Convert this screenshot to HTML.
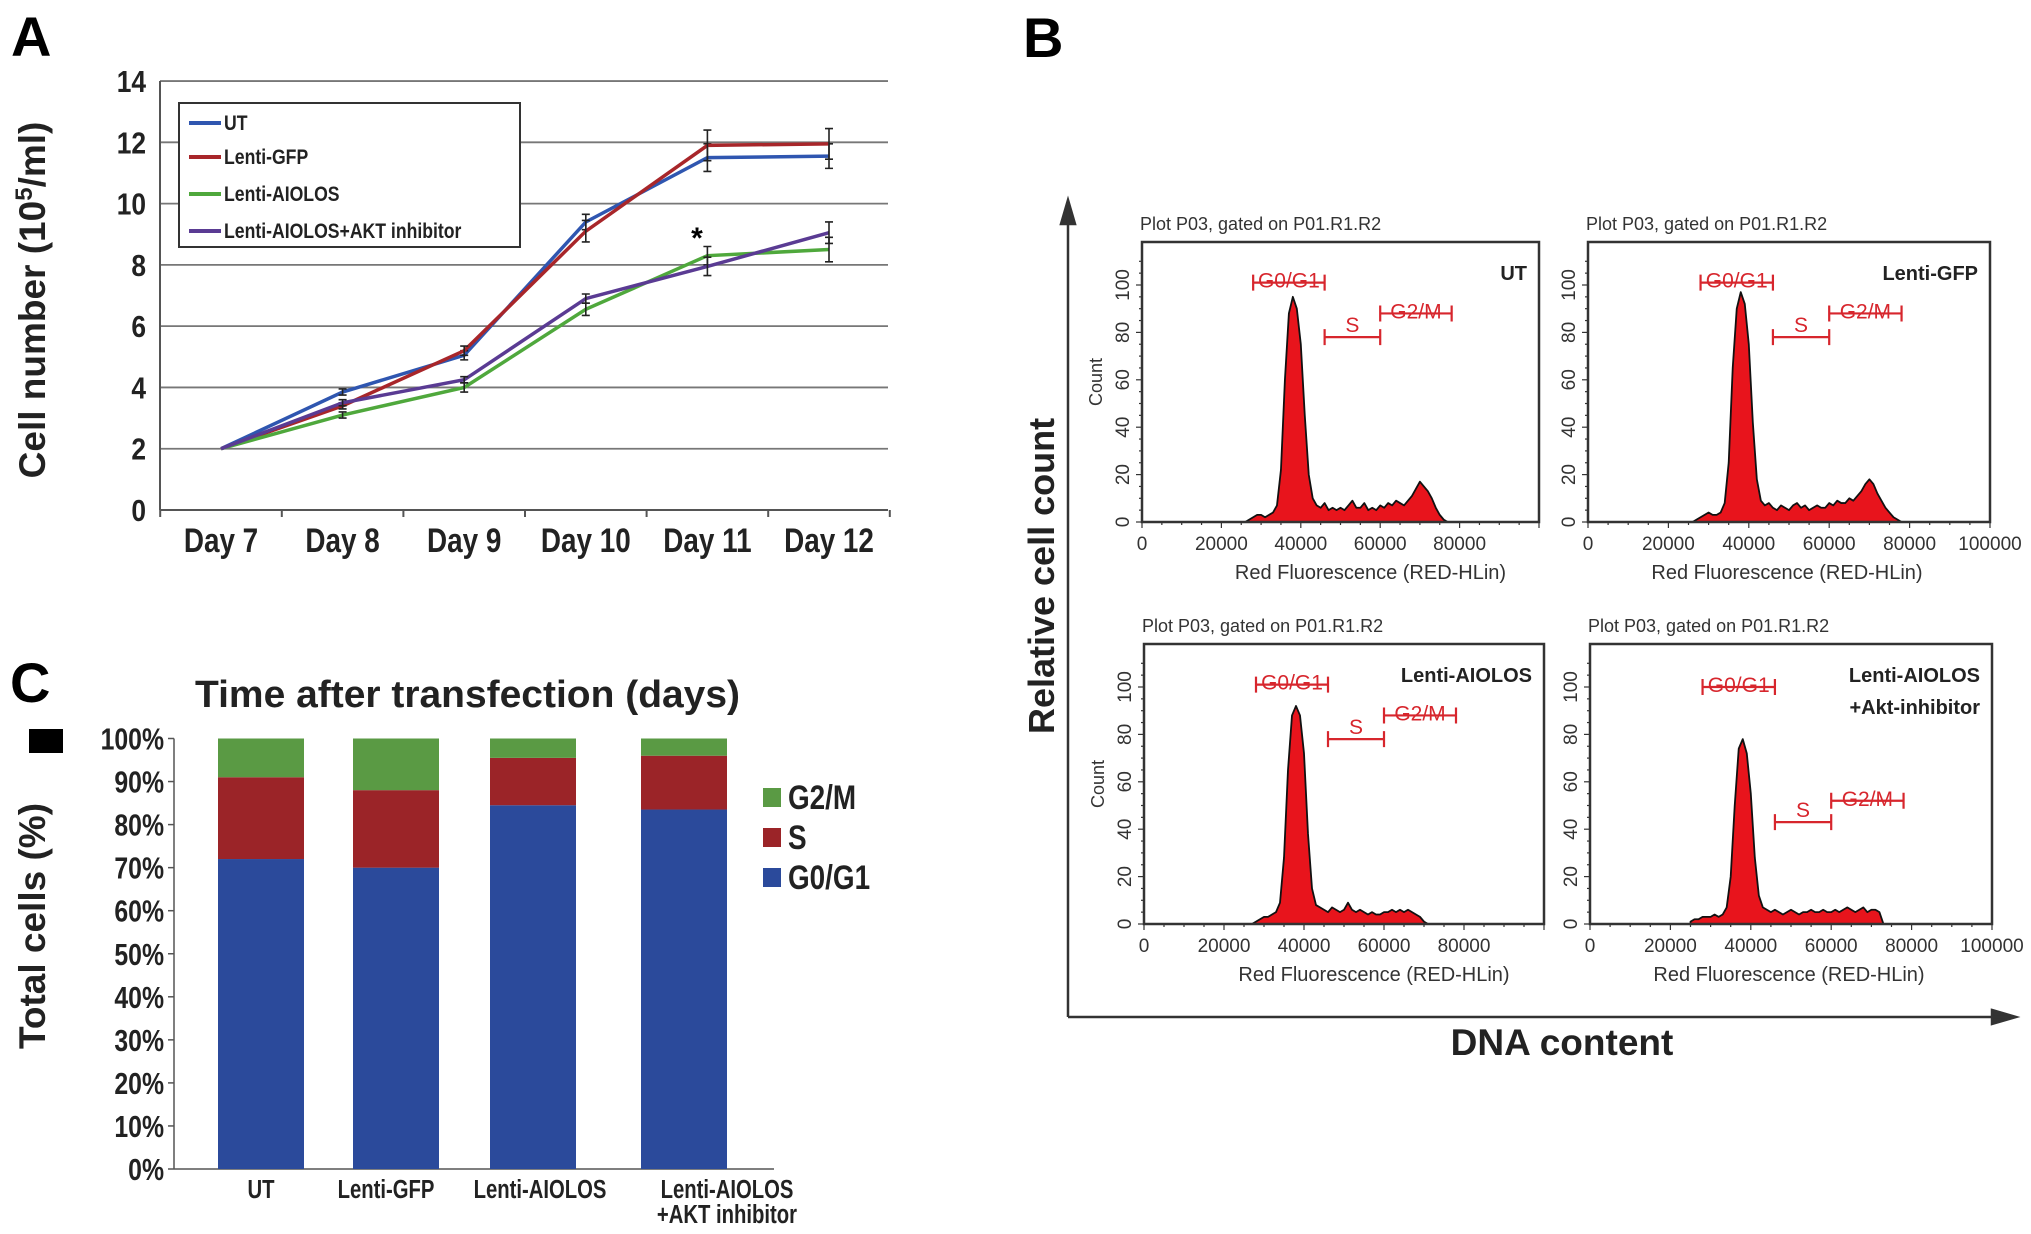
<!DOCTYPE html>
<html><head><meta charset="utf-8"><style>
html,body{margin:0;padding:0;background:#fff}
svg{display:block}
text{font-family:"Liberation Sans",sans-serif}
.n{font-family:"Liberation Sans",sans-serif;font-weight:bold}
</style></head><body>
<svg id="fig" width="2031" height="1234" viewBox="0 0 2031 1234" xmlns="http://www.w3.org/2000/svg">
<g id="A"></g>
<g id="B"></g>
<g id="C"></g>
</svg>
<script>
// ---------- Panel A data ----------
const daysA = ["Day 7","Day 8","Day 9","Day 10","Day 11","Day 12"];
const ticksA = [0,2,4,6,8,10,12,14];
const seriesNamesA = ["UT","Lenti-GFP","Lenti-AIOLOS","Lenti-AIOLOS+AKT inhibitor"];
const utVals = [2,3.85,5.05,9.4,11.5,11.55];
const gfpVals = [2,3.4,5.2,9.1,11.9,11.95];
const aiolosVals = [2,3.1,4.0,6.55,8.3,8.5];
const aktVals = [2,3.5,4.25,6.9,7.95,9.05];
const utErr = [0,0.1,0.15,0.25,0.45,0.4];
const gfpErr = [0,0.1,0.15,0.35,0.5,0.5];
const aiolosErr = [0,0.1,0.15,0.2,0.3,0.4];
const aktErr = [0,0.1,0.1,0.15,0.3,0.35];
// ---------- Panel C data ----------
const groupsC = ["UT","Lenti-GFP","Lenti-AIOLOS","Lenti-AIOLOS|+AKT inhibitor"];
const g0g1 = [72,70,84.5,83.5];
const sPhase = [19,18,11,12.5];
const g2m = [9,12,4.5,4];
const ticksC = [0,10,20,30,40,50,60,70,80,90,100];
// ---------- Panel B data (counts per 1000-unit bin starting at 25000) ----------
const histUT = [0,0,1,2,3,3,2,3,4,7,22,60,88,95,90,75,45,20,10,7,6,8,5,6,5,6,5,7,9,6,6,8,5,6,5,7,6,8,7,9,8,7,9,11,14,17,15,13,10,6,3,1,0,0,0,0];
const histGFP = [0,0,1,2,3,4,3,3,4,8,25,65,90,97,92,75,42,18,9,7,8,6,5,7,6,5,7,8,6,7,5,6,7,6,6,8,7,9,8,8,10,9,11,13,16,18,16,12,9,6,4,2,1,0,0,0];
const histAIO = [0,0,0,1,2,3,3,4,5,9,28,65,88,92,88,72,38,15,8,7,6,5,7,6,5,6,9,6,5,6,5,4,5,4,4,5,5,6,5,6,5,6,5,4,3,1,0,0,0,0,0,0,0,0,0,0];
const histAKT = [1,2,2,3,3,3,4,3,4,7,20,50,74,78,72,55,28,12,7,6,5,6,5,4,5,6,5,4,5,5,6,5,5,6,5,5,6,5,6,7,6,5,6,7,5,6,6,5,0,0,0,0,0,0,0,0];
const histStart = 25000, histStep = 1000;

const NS="http://www.w3.org/2000/svg";
function mk(tag,parent,attrs,txt){const e=document.createElementNS(NS,tag);for(const k in attrs)e.setAttribute(k,attrs[k]);if(txt!==undefined)e.textContent=txt;parent.appendChild(e);return e;}
// condensed text: horizontal squeeze around anchor point
function nt(parent,x,y,size,anchor,txt,sx){const e=mk('text',parent,{x:0,y:0,'font-size':size,'text-anchor':anchor,class:'n',fill:'#222',transform:`translate(${x},${y}) scale(${sx||0.8},1)`},txt);return e;}

// ================= Panel A =================
const A=document.getElementById('A');
const xA=i=>221+i*121.6, yA=v=>510-v*30.64;
let el;
el=mk('text',A,{x:11,y:56,'font-size':56,'font-weight':'bold'},'A');


ticksA.forEach(t=>{
  el=mk('line',A,{x1:160,x2:888,y1:yA(t),y2:yA(t),stroke:t===0?'#555':'#777','stroke-width':t===0?2:1.8});
  
  
  el=nt(A,146,yA(t)+11,31,'end',String(t),0.85);
  
  
});
el=mk('line',A,{x1:160,x2:160,y1:yA(14),y2:yA(0),stroke:'#555','stroke-width':2});


for(let i=0;i<=6;i++){
  el=mk('line',A,{x1:xA(i)-60.8,x2:xA(i)-60.8,y1:510,y2:517,stroke:'#555','stroke-width':2});
  
  
}
daysA.forEach((d,i)=>{
  el=nt(A,xA(i),552,34,'middle',d,0.82);
  
  
});
el=mk('text',A,{x:0,y:0,transform:'translate(45,300) rotate(-90)','text-anchor':'middle','font-size':37,'font-weight':'bold',fill:'#222'});
el.innerHTML='Cell number (10<tspan baseline-shift="super" font-size="24">5</tspan>/ml)';


const colsA=['#2f56b0','#a8262a','#4fa83c','#5a3b93'];
const valsA=[utVals,gfpVals,aiolosVals,aktVals];
const errsA=[utErr,gfpErr,aiolosErr,aktErr];
valsA.forEach((vals,s)=>{
  el=mk('polyline',A,{points:vals.map((v,i)=>xA(i)+','+yA(v)).join(' '),fill:'none',stroke:colsA[s],'stroke-width':3.5});
  
  
  vals.forEach((v,i)=>{ if(!errsA[s][i])return;
    const e=errsA[s][i];
    el=mk('path',A,{d:`M${xA(i)},${yA(v+e)}V${yA(v-e)}M${xA(i)-4},${yA(v+e)}h8M${xA(i)-4},${yA(v-e)}h8`,stroke:'#222','stroke-width':1.6,fill:'none'});
    
    
  });
});
el=mk('text',A,{x:697,y:248,'font-size':30,'font-weight':'bold','text-anchor':'middle'},'*');


const legA=mk('g',A,{});


el=mk('rect',legA,{x:179,y:103,width:341,height:144,fill:'#fff',stroke:'#333','stroke-width':2});


seriesNamesA.forEach((n,s)=>{
  const y=[123,157,194,231][s];
  el=mk('line',legA,{x1:189,x2:221,y1:y,y2:y,stroke:colsA[s],'stroke-width':4});
  
  
  el=nt(legA,224,y+7,21,'start',n,0.84);
  
  
});

// ================= Panel C =================
const C=document.getElementById('C');
const yC=v=>1169-v*4.305;
const barX=[218,353,490,641], barW=86;
el=mk('text',C,{x:10,y:702,'font-size':56,'font-weight':'bold'},'C');


el=mk('text',C,{x:195,y:707,'font-size':38,class:'n',textLength:545,lengthAdjust:'spacingAndGlyphs',fill:'#222'},'Time after transfection (days)');


el=mk('rect',C,{x:29,y:729,width:34,height:24,fill:'#000'});


ticksC.forEach(t=>{
  el=nt(C,164,yC(t)+11,31,'end',t+'%',0.8);
  
  
  el=mk('line',C,{x1:168,x2:174,y1:yC(t),y2:yC(t),stroke:'#555','stroke-width':1.5});
  
  
});
el=mk('line',C,{x1:174,x2:174,y1:yC(100),y2:yC(0),stroke:'#555','stroke-width':1.5});


el=mk('line',C,{x1:174,x2:774,y1:yC(0),y2:yC(0),stroke:'#555','stroke-width':1.5});


const colC={g:'#2b4a9b',s:'#9b2428',m:'#5a9a44'};
const labelCx=[255,390,545,726];
groupsC.forEach((g,i)=>{
  const x=barX[i];
  el=mk('rect',C,{x:x,y:yC(g0g1[i]),width:barW,height:yC(0)-yC(g0g1[i]),fill:colC.g});
  
  
  el=mk('rect',C,{x:x,y:yC(g0g1[i]+sPhase[i]),width:barW,height:yC(g0g1[i])-yC(g0g1[i]+sPhase[i]),fill:colC.s});
  
  
  const top=g0g1[i]+sPhase[i]+g2m[i];
  el=mk('rect',C,{x:x,y:yC(top),width:barW,height:yC(g0g1[i]+sPhase[i])-yC(top),fill:colC.m});
  
  
  g.split('|').forEach((ln,k)=>{
    el=nt(C,[261,386,540,727][i],1198+k*25,26,'middle',ln,0.78);
    
    
  });
});
[['G2/M',colC.m,788],['S',colC.s,828],['G0/G1',colC.g,868]].forEach(([n,c,y])=>{
  el=mk('rect',C,{x:763,y:y,width:18,height:19,fill:c});
  
  
  el=nt(C,788,y+21,34,'start',n,0.82);
  
  
});
el=mk('text',C,{x:0,y:0,transform:'translate(45,926) rotate(-90)','text-anchor':'middle','font-size':37,'font-weight':'bold',fill:'#222'},'Total cells (%)');



// ================= Panel B =================
const B=document.getElementById('B');
el=mk('text',B,{x:1023,y:57,'font-size':56,'font-weight':'bold'},'B');


el=mk('path',B,{d:'M1068,1017V210M1061,224L1068,200L1075,224Z',stroke:'#333','stroke-width':2.5,fill:'#333'});


el=mk('path',B,{d:'M1068,1017H2005M1992,1010L2016,1017L1992,1024Z',stroke:'#333','stroke-width':2.5,fill:'#333'});


el=mk('text',B,{x:0,y:0,transform:'translate(1054,576) rotate(-90)','text-anchor':'middle','font-size':36,'font-weight':'bold',fill:'#222'},'Relative cell count');


el=mk('text',B,{x:1562,y:1055,'text-anchor':'middle','font-size':37,'font-weight':'bold',fill:'#222'},'DNA content');



const plots=[
 {x:1142,y:242,w:397,h:280,hist:histUT,lab:['UT'],full:false,count:true,gates:[101,78,88],nm:'ut'},
 {x:1588,y:242,w:402,h:280,hist:histGFP,lab:['Lenti-GFP'],full:true,count:false,gates:[101,78,88],nm:'lenti-gfp'},
 {x:1144,y:644,w:400,h:280,hist:histAIO,lab:['Lenti-AIOLOS'],full:false,count:true,gates:[101,78,88],nm:'lenti-aiolos'},
 {x:1590,y:644,w:402,h:280,hist:histAKT,lab:['Lenti-AIOLOS','+Akt-inhibitor'],full:true,count:false,gates:[100,43,52],nm:'lenti-aiolos-akt'}
];
plots.forEach(p=>{
  const g=mk('g',B,{});
  
  
  const x0=p.x,y0=p.y+p.h;
  const xs=v=>x0+v/100000*p.w, ys=c=>y0-c*2.37;
  el=mk('text',g,{x:p.x-2,y:p.y-12,'font-size':18,fill:'#333'},'Plot P03, gated on P01.R1.R2');
  
  
  let d=`M${xs(histStart)},${ys(0)}`;
  p.hist.forEach((c,i)=>{d+=`L${xs(histStart+i*histStep)},${ys(c)}`;});
  d+=`L${xs(histStart+(p.hist.length-1)*histStep)},${ys(0)}Z`;
  el=mk('path',g,{d:d,fill:'#e8141c',stroke:'#111','stroke-width':1.8,'stroke-linejoin':'round'});
  
  
  el=mk('rect',g,{x:p.x,y:p.y,width:p.w,height:p.h,fill:'none',stroke:'#333','stroke-width':2.5});
  
  
  const xt=p.full?[0,20000,40000,60000,80000,100000]:[0,20000,40000,60000,80000];
  for(let v=0;v<=100000;v+=5000){
    el=mk('line',g,{x1:xs(v),x2:xs(v),y1:y0,y2:y0+(v%20000===0?6:3),stroke:'#333','stroke-width':1.2});
    
    
  }
  xt.forEach(v=>{
    el=mk('text',g,{x:xs(v),y:y0+28,'text-anchor':'middle','font-size':19,fill:'#333'},String(v));
    
    
  });
  for(let c=0;c<=110;c+=5){
    el=mk('line',g,{x1:x0-(c%20===0?6:3),x2:x0,y1:ys(c),y2:ys(c),stroke:'#333','stroke-width':1.2});
    
    
  }
  [0,20,40,60,80,100].forEach(c=>{
    el=mk('text',g,{x:0,y:0,transform:`translate(${x0-13},${ys(c)}) rotate(-90)`,'text-anchor':'middle','font-size':19,fill:'#333'},String(c));
    
    
  });
  if(p.count){
    el=mk('text',g,{x:0,y:0,transform:`translate(${x0-40},${p.y+140}) rotate(-90)`,'text-anchor':'middle','font-size':18,fill:'#333'},'Count');
    
    
  }
  el=mk('text',g,{x:x0+p.w*0.5+(p.full?-2:30),y:y0+57,'text-anchor':'middle','font-size':20,fill:'#333'},'Red Fluorescence (RED-HLin)');
  
  
  const gates=[['G0/G1',28000,46000,p.gates[0]],['S',46000,60000,p.gates[1]],['G2/M',60000,78000,p.gates[2]]];
  gates.forEach(([n,a,b,c])=>{
    const y=ys(c);
    el=mk('path',g,{d:`M${xs(a)},${y}H${xs(b)}M${xs(a)},${y-8}v16M${xs(b)},${y-8}v16`,stroke:'#d7262d','stroke-width':2.2,fill:'none'});
    
    
    el=mk('text',g,{x:(xs(a)+xs(b))/2,y:n==='S'?y-5:y+5,'text-anchor':'middle','font-size':21,fill:'#d7262d'},n);
    
    
  });
  p.lab.forEach((t,k)=>{
    el=mk('text',g,{x:p.x+p.w-12,y:p.y+38+k*32,'text-anchor':'end','font-size':20,'font-weight':'bold',fill:'#222'},t);
    
    
  });
});
</script>
</body></html>
